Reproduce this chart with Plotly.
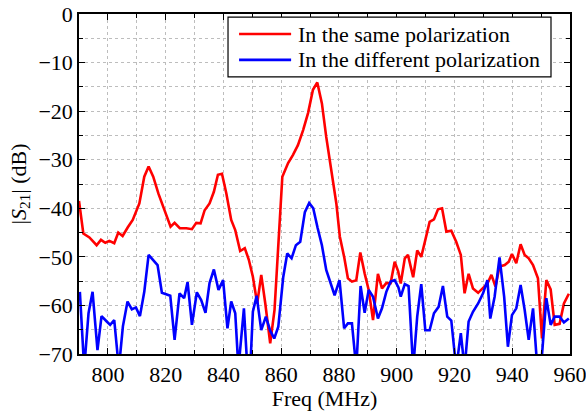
import plotly.graph_objects as go

# Measured |S21| (dB) versus frequency (MHz)
same_freq = [790.0, 791.5, 793.6, 796.1, 797.6, 799.1, 800.5, 802.2, 803.6, 805.1,
             806.9, 808.6, 810.9, 812.6, 814.1, 815.7, 817.5, 819.1, 821.7, 823.1,
             824.9, 827.2, 829.1, 830.6, 832.1, 833.5, 835.2, 836.7, 838.1, 839.5,
             841.0, 842.7, 844.1, 845.8, 847.4, 848.8, 850.2, 851.7, 853.1, 854.5,
             856.2, 857.7, 859.1, 860.4, 862.4, 864.1, 865.8, 867.6, 869.3, 871.0,
             872.5, 874.1, 875.6, 877.4, 879.1, 880.3, 881.8, 883.1, 884.5, 886.0,
             887.4, 888.9, 890.3, 891.8, 893.5, 894.9, 896.4, 897.9, 899.3, 900.5,
             901.4, 902.8, 903.9, 905.7, 907.1, 908.5, 910.3, 911.4, 912.9, 914.3,
             915.7, 917.2, 918.9, 920.6, 922.2, 923.5, 924.9, 926.4, 928.2, 929.9,
             931.4, 932.8, 934.2, 935.6, 937.4, 938.8, 939.9, 941.4, 942.9, 944.3,
             945.7, 947.2, 948.9, 950.3, 951.8, 953.3, 954.7, 956.4, 957.9, 959.6]
same_s21 = [-38.5, -45.2, -46.0, -47.6, -46.5, -47.1, -46.7, -47.2, -45.0, -45.7,
            -43.9, -42.4, -39.0, -33.5, -31.4, -33.5, -37.0, -39.7, -43.8, -43.0,
            -44.1, -44.1, -44.3, -43.0, -43.1, -40.4, -39.0, -36.6, -33.1, -32.9,
            -36.9, -42.4, -44.5, -48.8, -48.2, -50.6, -54.1, -59.6, -53.7, -59.6,
            -67.8, -60.9, -47.2, -33.5, -30.7, -29.0, -27.0, -23.9, -20.4, -15.6,
            -14.1, -18.4, -25.3, -32.1, -39.0, -45.8, -50.0, -54.4, -55.1, -54.8,
            -49.1, -53.4, -56.8, -63.0, -53.5, -56.5, -55.4, -55.4, -51.0, -53.0,
            -55.5, -50.3, -49.6, -54.2, -48.7, -50.0, -45.2, -42.8, -42.3, -40.2,
            -40.0, -44.8, -44.6, -46.9, -49.6, -57.5, -53.5, -56.5, -57.4, -56.5,
            -55.5, -53.7, -56.1, -52.0, -51.7, -51.0, -49.4, -51.3, -47.4, -49.6,
            -50.3, -51.7, -54.4, -66.8, -54.8, -56.7, -64.0, -63.8, -59.6, -57.6]

diff_freq = [790.3, 791.8, 793.3, 794.7, 796.4, 797.8, 799.6, 800.8, 802.2, 803.8,
             805.2, 806.8, 808.3, 809.7, 811.1, 812.6, 814.1, 815.7, 817.2, 818.7,
             821.6, 823.1, 824.8, 826.4, 827.6, 829.1, 830.8, 832.3, 833.8, 835.2,
             836.7, 838.3, 839.9, 841.4, 842.7, 844.1, 845.2, 847.1, 848.3, 849.3,
             850.2, 851.5, 853.1, 854.7, 856.2, 857.6, 859.0, 860.7, 862.1, 863.6,
             865.1, 866.6, 868.2, 869.7, 871.1, 872.6, 874.1, 875.6, 877.1, 878.5,
             880.2, 881.8, 883.1, 884.5, 886.0, 887.5, 888.9, 890.3, 891.8, 893.5,
             894.9, 896.4, 897.9, 899.3, 900.6, 901.4, 902.8, 904.1, 905.7, 907.1,
             908.5, 909.9, 911.4, 912.9, 914.5, 916.0, 917.5, 918.9, 920.6, 922.2,
             923.5, 924.9, 926.4, 928.2, 929.9, 931.4, 932.4, 933.9, 935.6, 937.2,
             938.5, 939.9, 941.4, 942.9, 944.3, 945.7, 947.2, 948.7, 950.2, 951.8,
             953.3, 954.7, 956.4, 957.9, 959.6]
diff_s21 = [-57.2, -73.0, -61.6, -57.2, -69.2, -62.2, -63.3, -64.0, -63.0, -73.0,
            -64.3, -59.2, -60.8, -60.4, -62.2, -57.2, -49.6, -50.6, -51.7, -57.4,
            -58.0, -67.1, -57.5, -58.5, -55.2, -64.0, -57.3, -58.9, -61.5, -55.4,
            -52.6, -56.8, -54.8, -64.7, -59.2, -61.6, -73.0, -60.6, -73.0, -73.0,
            -61.3, -58.0, -65.1, -62.3, -65.2, -66.8, -64.4, -54.2, -49.3, -50.3,
            -47.6, -46.9, -40.8, -38.9, -40.0, -44.0, -47.6, -52.7, -55.4, -57.9,
            -54.8, -64.7, -63.7, -63.7, -73.0, -56.0, -61.5, -56.8, -58.2, -62.7,
            -60.6, -57.2, -55.1, -54.8, -56.3, -58.2, -55.6, -56.0, -73.0, -62.3,
            -55.6, -65.1, -65.1, -61.6, -60.3, -56.0, -62.3, -63.1, -73.0, -65.7,
            -73.0, -63.3, -61.3, -59.6, -57.5, -54.8, -62.7, -58.2, -50.1, -58.2,
            -68.5, -62.0, -60.6, -55.8, -60.9, -67.1, -60.6, -73.0, -71.0, -58.5,
            -64.0, -62.3, -62.3, -63.5, -62.7]

series_names = ["In the same polarization", "In the different polarization"]
series_colors = ["#ff0000", "#0000ff"]

FONT = "Liberation Serif"
FS = 22

fig = go.Figure()
for name, color, xs, ys in zip(series_names, series_colors,
                               [same_freq, diff_freq], [same_s21, diff_s21]):
    fig.add_trace(go.Scatter(x=xs, y=ys, mode="lines", name=name,
                             line=dict(color=color, width=2.6),
                             showlegend=False))

axis_common = dict(
    automargin=False, ticklabeloverflow="allow",
    showline=True, linecolor="black", linewidth=1.5, mirror="ticks",
    ticks="inside", ticklen=6, tickwidth=1.2, tickcolor="black",
    showgrid=True, gridcolor="#bdbdbd", griddash="dot", gridwidth=1,
    zeroline=False, tickfont=dict(family=FONT, size=FS, color="black"),
)

fig.update_xaxes(
    range=[790, 960], tick0=800, dtick=20,
    minor=dict(dtick=10, ticks="inside", ticklen=4, tickcolor="black",
               showgrid=True, gridcolor="#bdbdbd", griddash="dot"),
    title=dict(text="Freq (MHz)", font=dict(family=FONT, size=FS, color="black"),
               standoff=2),
    **axis_common,
)
fig.update_yaxes(
    range=[-70, 0], tick0=-70, dtick=10,
    minor=dict(dtick=5, ticks="inside", ticklen=4, tickcolor="black",
               showgrid=True, gridcolor="#bdbdbd", griddash="dot"),
    title=dict(text="|<i>S</i><sub>21</sub>| (dB)",
               font=dict(family=FONT, size=FS, color="black"), standoff=6),
    **axis_common,
)

# Legend box with line samples and labels
legend_x0, legend_x1 = 0.3035, 0.9613
legend_y0, legend_y1 = 0.815, 0.991
fig.add_shape(type="rect", xref="paper", yref="paper",
              x0=legend_x0, x1=legend_x1, y0=legend_y0, y1=legend_y1,
              line=dict(color="black", width=1.2), fillcolor="white", layer="above")
for name, color, ypos in zip(series_names, series_colors, [0.941, 0.865]):
    fig.add_shape(type="line", xref="paper", yref="paper",
                  x0=0.326, x1=0.432, y0=ypos, y1=ypos,
                  line=dict(color=color, width=2.6), layer="above")
    fig.add_annotation(xref="paper", yref="paper", x=0.442, y=ypos,
                       xanchor="left", yanchor="middle", showarrow=False,
                       text=name, font=dict(family=FONT, size=FS, color="black"))

fig.update_layout(
    width=586, height=411,
    margin=dict(l=79, r=16, t=14, b=57),
    paper_bgcolor="white", plot_bgcolor="white",
    font=dict(family=FONT, color="black"),
)

fig.write_html("out.html")
